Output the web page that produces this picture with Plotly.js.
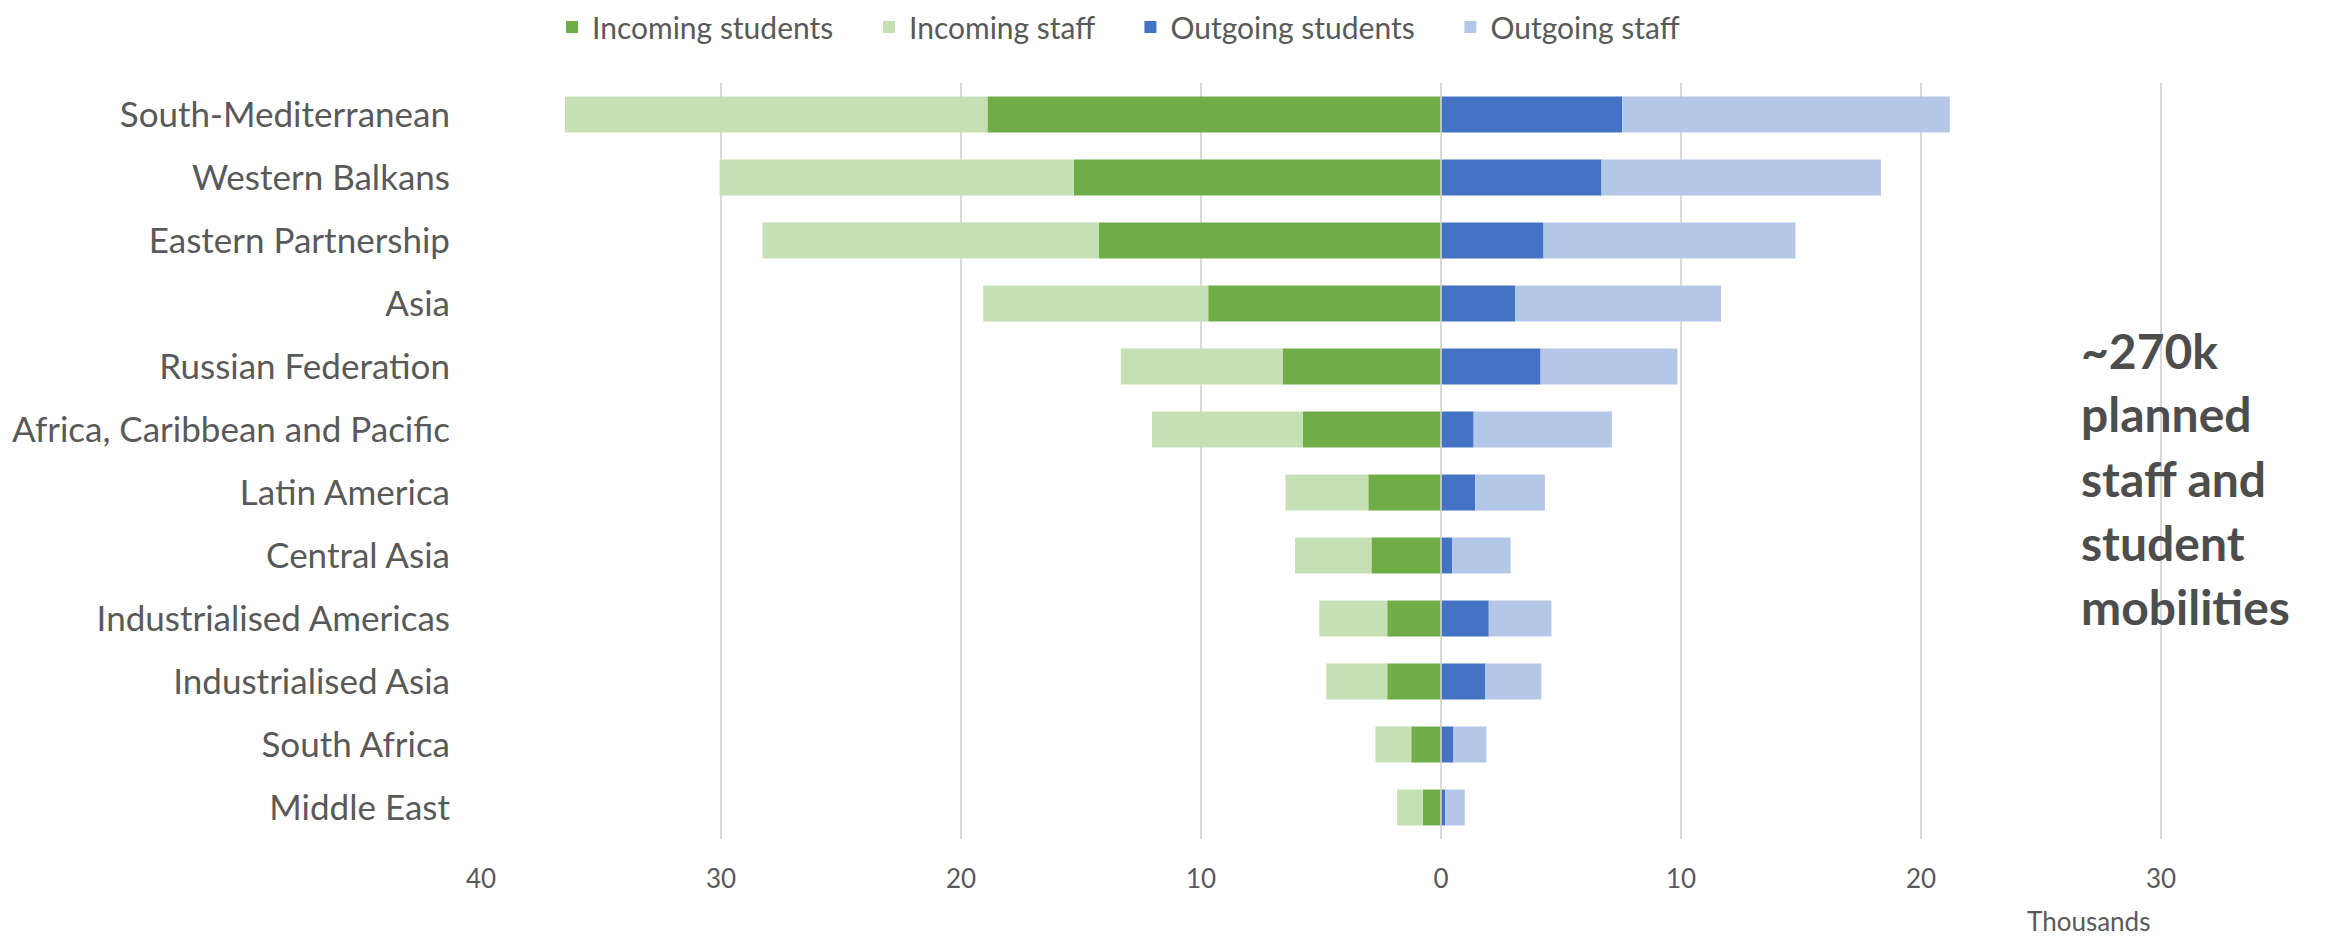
<!DOCTYPE html>
<html>
<head>
<meta charset="utf-8">
<script src="https://cdn.plot.ly/plotly-3.0.1.min.js"></script>
<style>html,body{margin:0;padding:0;background:#fff;}#chart{width:2331px;height:945px;}</style>
</head>
<body>
<div id="chart"></div>
<script>
// Values in thousands
const regions = ["South-Mediterranean","Western Balkans","Eastern Partnership","Asia","Russian Federation","Africa, Caribbean and Pacific","Latin America","Central Asia","Industrialised Americas","Industrialised Asia","South Africa","Middle East"];
const incomingStudents = [18.9, 15.3, 14.25, 9.7, 6.6, 5.75, 3.03, 2.9, 2.24, 2.24, 1.24, 0.76];
const incomingStaff    = [17.6, 14.76, 14.02, 9.37, 6.74, 6.29, 3.45, 3.18, 2.83, 2.54, 1.49, 1.07];
const outgoingStudents = [7.55, 6.69, 4.27, 3.10, 4.15, 1.36, 1.43, 0.47, 1.99, 1.85, 0.52, 0.17];
const outgoingStaff    = [13.65, 11.64, 10.5, 8.57, 5.7, 5.76, 2.9, 2.43, 2.61, 2.33, 1.37, 0.82];
const seriesNames = ["Incoming students", "Incoming staff", "Outgoing students", "Outgoing staff"];
const tickValues = [-40, -30, -20, -10, 0, 10, 20, 30];
const tickLabels = ["40", "30", "20", "10", "0", "10", "20", "30"];
const noteLines = ["~270k", "planned", "staff and", "student", "mobilities"];

const neg = a => a.map(v => -v);
const pad = '\u00a0\u00a0\u00a0\u00a0';
const mk = (name, x, color) => ({
  type: 'bar', orientation: 'h', name: name + pad, x: x, y: regions,
  marker: {color: color, line: {width: 0}}, hoverinfo: 'x+y+name'
});
const data = [
  mk(seriesNames[0], neg(incomingStudents), '#70AD47'),
  mk(seriesNames[1], neg(incomingStaff), '#C5E0B4'),
  mk(seriesNames[2], outgoingStudents, '#4472C4'),
  mk(seriesNames[3], outgoingStaff, '#B4C7E7')
];

const W = 2331, H = 945, L = 481, R = 0, T = 83, B = 106;
const plotH = H - T - B;
const pxToPaperY = py => (H - B - py) / plotH;

const annotations = [];
const baseY = [350, 414, 478, 542, 606];
noteLines.forEach((t, i) => annotations.push({
  text: t, xref: 'x', yref: 'paper', x: 26.6, y: pxToPaperY(baseY[i]),
  xanchor: 'left', yanchor: 'middle', showarrow: false,
  font: {family: 'Lato, sans-serif', size: 48, color: '#4d4d4d', weight: 'bold'}
}));
annotations.push({
  text: 'Thousands', xref: 'x', yref: 'paper', x: 26.96, y: pxToPaperY(921),
  xanchor: 'center', yanchor: 'middle', showarrow: false,
  font: {family: 'Lato, sans-serif', size: 26, color: '#595959'}
});

const layout = {
  width: W, height: H,
  margin: {l: L, r: R, t: T, b: B, pad: 0},
  paper_bgcolor: '#fff', plot_bgcolor: '#fff',
  barmode: 'relative', bargap: 0.43,
  font: {family: 'Lato, sans-serif', color: '#595959'},
  showlegend: true,
  legend: {orientation: 'h', x: (552 - L) / (W - L - R), xanchor: 'left', y: pxToPaperY(27), yanchor: 'middle',
           font: {size: 30, color: '#595959'}, traceorder: 'normal', itemwidth: 30},
  xaxis: {range: [-40, -40 + (W - R - L) / 24], autorange: false,
          tickvals: tickValues, ticktext: tickLabels, showgrid: true, gridcolor: '#d9d9d9', gridwidth: 1.5,
          zeroline: false, showline: false, ticks: '', tickfont: {size: 26, color: '#595959'},
          ticklabelstandoff: 22, fixedrange: true},
  yaxis: {autorange: 'reversed', type: 'category', showgrid: false, zeroline: false, showline: false,
          ticks: '', tickfont: {size: 35, color: '#595959'}, ticklabelstandoff: 30, fixedrange: true},
  shapes: [{type: 'line', xref: 'x', yref: 'paper', x0: 0, x1: 0, y0: 0, y1: 1,
            line: {color: '#d9d9d9', width: 1.5}, layer: 'above'}],
  annotations: annotations
};
Plotly.newPlot('chart', data, layout, {displayModeBar: false, staticPlot: true});
</script>
</body>
</html>
